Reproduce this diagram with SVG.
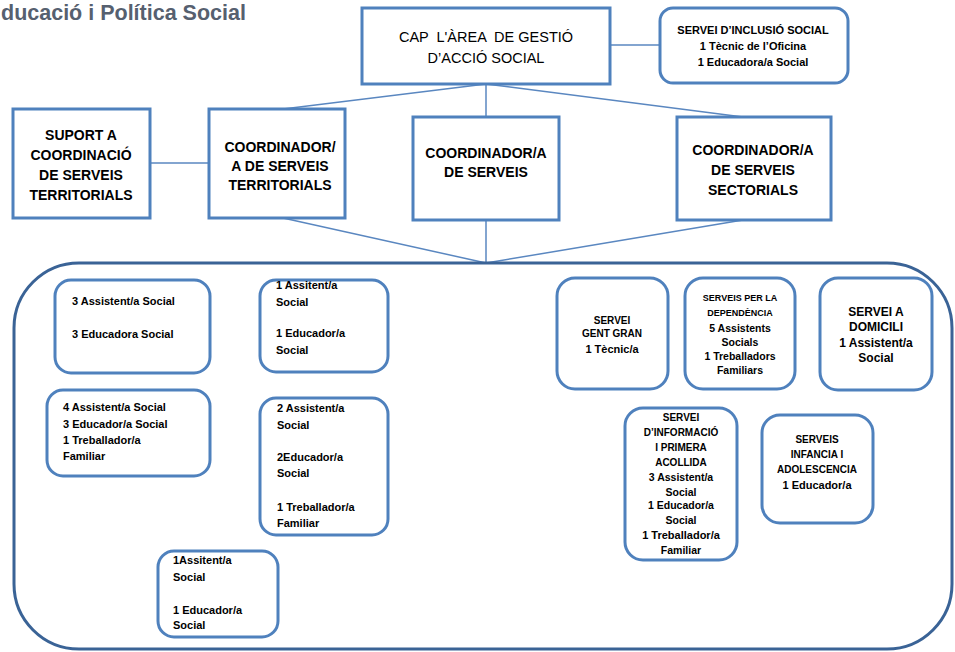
<svg xmlns="http://www.w3.org/2000/svg" width="955" height="652" viewBox="0 0 955 652">
<style>
text{font-family:"Liberation Sans",Arial,sans-serif;fill:#000;font-weight:bold}
.box{fill:#fff;stroke:#4F81BD;stroke-width:3}
.rbox{fill:#fff;stroke:#4F81BD;stroke-width:3}
.cont{fill:none;stroke:#3A6396;stroke-width:3}
.conn line{stroke:#5A87C0;stroke-width:1.5}
.c{text-anchor:middle}
.cap{font-weight:normal;font-size:14.5px;white-space:pre}
.big{font-size:14px}
.s11{font-size:11px}
.s10{font-size:10px}
.s9{font-size:9px}
.s105{font-size:10.5px}
.s12{font-size:12px}
.title{font-size:21.5px;fill:#56606f}
</style>
<rect width="955" height="652" fill="#fff"/>
<text class="title" x="1" y="20">ducació i Política Social</text>

<g class="conn">
<line x1="610" y1="45" x2="660" y2="45"/>
<line x1="150" y1="163" x2="209" y2="163"/>
<line x1="486" y1="84" x2="283" y2="109"/>
<line x1="486" y1="84" x2="486" y2="117"/>
<line x1="486" y1="84" x2="743" y2="117"/>
<line x1="283" y1="218" x2="486" y2="263"/>
<line x1="486" y1="220" x2="486" y2="263"/>
<line x1="743" y1="220" x2="486" y2="263"/>
</g>

<g id="container"><rect class="cont" x="14" y="263" width="938" height="386" rx="65"/></g>

<g id="cap">
<rect class="box" x="362" y="8" width="248" height="76"/>
<text class="cap c" x="486" y="42">CAP  L'ÀREA  DE GESTIÓ</text>
<text class="cap c" x="486" y="63">D’ACCIÓ SOCIAL</text>
</g>

<g id="inclusio">
<rect class="rbox" x="660" y="8" width="188" height="75" rx="13"/>
<text class="s11 c" x="753" y="34">SERVEI D’INCLUSIÓ SOCIAL</text>
<text class="s11 c" x="753" y="50">1 Tècnic de l’Oficina</text>
<text class="s11 c" x="753" y="66">1 Educadora/a Social</text>
</g>

<g id="suport">
<rect class="box" x="13" y="109" width="137" height="109"/>
<text class="big c" x="81" y="140">SUPORT A</text>
<text class="big c" x="81" y="160">COORDINACIÓ</text>
<text class="big c" x="81" y="180">DE SERVEIS</text>
<text class="big c" x="81" y="200">TERRITORIALS</text>
</g>

<g id="coord-territorials">
<rect class="box" x="209" y="109" width="136" height="109"/>
<text class="big c" x="280" y="152">COORDINADOR/</text>
<text class="big c" x="280" y="171">A DE SERVEIS</text>
<text class="big c" x="280" y="190">TERRITORIALS</text>
</g>

<g id="coord-serveis">
<rect class="box" x="413" y="117" width="146" height="103"/>
<text class="big c" x="486" y="158">COORDINADOR/A</text>
<text class="big c" x="486" y="177">DE SERVEIS</text>
</g>

<g id="coord-sectorials">
<rect class="box" x="677" y="117" width="154" height="103"/>
<text class="big c" x="753" y="155">COORDINADOR/A</text>
<text class="big c" x="753" y="175">DE SERVEIS</text>
<text class="big c" x="753" y="195">SECTORIALS</text>
</g>

<g id="boxA">
<rect class="rbox" x="55" y="280" width="155" height="93" rx="16"/>
<text class="s11" x="72" y="305">3 Assistent/a Social</text>
<text class="s11" x="72" y="338">3 Educadora Social</text>
</g>

<g id="boxB">
<rect class="rbox" x="260" y="280" width="128" height="92" rx="16"/>
<text class="s11" x="276" y="289">1 Assitent/a</text>
<text class="s11" x="276" y="306">Social</text>
<text class="s11" x="276" y="337">1 Educador/a</text>
<text class="s11" x="276" y="354">Social</text>
</g>

<g id="boxC">
<rect class="rbox" x="47" y="390" width="163" height="86" rx="16"/>
<text class="s11" x="63" y="411">4 Assistent/a Social</text>
<text class="s11" x="63" y="428">3 Educador/a Social</text>
<text class="s11" x="63" y="444">1 Treballador/a</text>
<text class="s11" x="63" y="460">Familiar</text>
</g>

<g id="boxD">
<rect class="rbox" x="260" y="398" width="128" height="137" rx="16"/>
<text class="s11" x="277" y="412">2 Assistent/a</text>
<text class="s11" x="277" y="429">Social</text>
<text class="s11" x="277" y="461">2Educador/a</text>
<text class="s11" x="277" y="477">Social</text>
<text class="s11" x="277" y="511">1 Treballador/a</text>
<text class="s11" x="277" y="527">Familiar</text>
</g>

<g id="boxE">
<rect class="rbox" x="158" y="551" width="120" height="86" rx="16"/>
<text class="s11" x="173" y="564">1Assitent/a</text>
<text class="s11" x="173" y="581">Social</text>
<text class="s11" x="173" y="614">1 Educador/a</text>
<text class="s11" x="173" y="629">Social</text>
</g>

<g id="gent-gran">
<rect class="rbox" x="557" y="278" width="111" height="111" rx="18"/>
<text class="s10 c" x="612" y="324">SERVEI</text>
<text class="s10 c" x="612" y="337">GENT GRAN</text>
<text class="s11 c" x="612" y="353">1 Tècnic/a</text>
</g>

<g id="dependencia">
<rect class="rbox" x="685" y="278" width="110" height="111" rx="18"/>
<text class="s9 c" x="740" y="301">SERVEIS PER LA</text>
<text class="s9 c" x="740" y="316">DEPENDÈNCIA</text>
<text class="s105 c" x="740" y="332">5 Assistents</text>
<text class="s105 c" x="740" y="346">Socials</text>
<text class="s105 c" x="740" y="360">1 Treballadors</text>
<text class="s105 c" x="740" y="374">Familiars</text>
</g>

<g id="domicili">
<rect class="rbox" x="820" y="278" width="112" height="112" rx="18"/>
<text class="s12 c" x="876" y="316">SERVEI A</text>
<text class="s12 c" x="876" y="331">DOMICILI</text>
<text class="s12 c" x="876" y="347">1 Assistent/a</text>
<text class="s12 c" x="876" y="362">Social</text>
</g>

<g id="informacio">
<rect class="rbox" x="625" y="408" width="112" height="152" rx="18"/>
<text class="s10 c" x="681" y="421">SERVEI</text>
<text class="s10 c" x="681" y="436">D’INFORMACIÓ</text>
<text class="s10 c" x="681" y="451">I PRIMERA</text>
<text class="s10 c" x="681" y="466">ACOLLIDA</text>
<text class="s105 c" x="681" y="481">3 Assistent/a</text>
<text class="s105 c" x="681" y="496">Social</text>
<text class="s105 c" x="681" y="509">1 Educador/a</text>
<text class="s105 c" x="681" y="524">Social</text>
<text class="s11 c" x="681" y="539">1 Treballador/a</text>
<text class="s105 c" x="681" y="554">Familiar</text>
</g>

<g id="infancia">
<rect class="rbox" x="762" y="415" width="111" height="108" rx="18"/>
<text class="s10 c" x="817" y="443">SERVEIS</text>
<text class="s10 c" x="817" y="458">INFANCIA I</text>
<text class="s10 c" x="817" y="473">ADOLESCENCIA</text>
<text class="s11 c" x="817" y="489">1 Educador/a</text>
</g>
</svg>
